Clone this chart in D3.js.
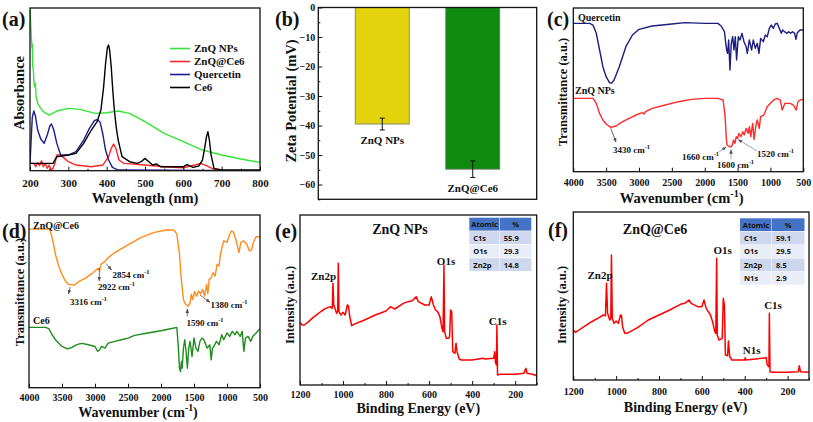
<!DOCTYPE html>
<html><head><meta charset="utf-8">
<script src="https://cdn.jsdelivr.net/npm/d3@7"></script>
<style>
body{margin:0;background:#fff}
svg{display:block}
text{font-family:"Liberation Serif","Times New Roman",serif;font-weight:bold;fill:#111}
.tbl text{font-family:"Open Sans","Liberation Sans",sans-serif;font-weight:bold}
</style>
</head><body>
<svg id="c" width="813" height="422"></svg>
<script>
// ---------- DATA ----------
// (a) UV-vis absorbance (a.u.) vs wavelength (nm)
const uvZnQ = [[200,490],[201,470],[203,412],[205,370],[206,380],[207,312],[209,300],[210,270],[212,252],[214,262],[216,222],[220,202],[228,187],[235,177],[250,167],[270,179],[300,187],[330,184],[370,172],[400,174],[430,179],[460,172],[500,147],[550,112],[600,87],[650,62],[700,47],[750,35],[800,25]];
const uvZnQCe6 = [[200,22],[210,22],[215,12],[220,24],[225,15],[230,30],[235,12],[240,22],[245,7],[250,17],[255,2],[260,7],[265,22],[270,47],[280,47],[290,37],[300,27],[320,17],[360,12],[390,17],[405,42],[412,67],[418,80],[424,67],[432,32],[445,22],[500,17],[550,12],[600,9],[630,17],[645,22],[660,15],[680,4],[700,0],[800,0]];
const uvQuercetin = [[200,22],[203,92],[206,160],[210,179],[214,165],[220,122],[228,95],[237,82],[245,107],[252,135],[256,140],[262,122],[270,82],[280,47],[300,47],[320,57],[340,92],[355,127],[368,150],[376,154],[383,145],[390,110],[397,62],[405,32],[415,10],[430,2],[800,0]];
const uvCe6 = [[200,22],[260,22],[270,42],[300,47],[320,52],[340,82],[360,122],[375,147],[385,182],[392,250],[397,320],[402,370],[405,377],[408,360],[412,310],[416,240],[420,182],[425,130],[430,92],[440,42],[460,27],[480,22],[490,27],[500,37],[510,27],[520,17],[530,20],[540,12],[560,12],[600,12],[610,18],[625,10],[640,14],[650,32],[656,70],[660,100],[664,117],[668,92],[672,50],[680,7],[700,2],[800,2]];
const uvTicks = [200,300,400,500,600,700,800];

// (b) Zeta potential
const zetaCategories = ["ZnQ NPs","ZnQ@Ce6"];
const zetaValues = [-39.5,-54.8];
const zetaErrors = [2.0,2.8];
const zetaTicks = [0,-10,-20,-30,-40,-50,-60];

// (c) FTIR transmittance (a.u.) vs wavenumber
const irQuercetin = [[4000,445],[3750,445],[3700,440],[3650,415],[3600,365],[3550,315],[3500,285],[3450,267],[3420,265],[3380,275],[3300,315],[3200,375],[3100,410],[3000,427],[2800,437],[2500,443],[2300,447],[2000,445],[1800,445],[1750,437],[1700,420],[1680,385],[1667,365],[1652,355],[1636,395],[1616,305],[1596,385],[1575,405],[1555,365],[1535,405],[1515,335],[1489,405],[1464,395],[1433,415],[1403,390],[1370,375],[1352,355],[1322,395],[1286,365],[1261,395],[1230,370],[1200,385],[1175,355],[1149,400],[1109,390],[1078,410],[1048,405],[1017,430],[987,440],[957,430],[926,443],[896,445],[866,430],[835,415],[815,425],[784,420],[754,415],[723,420],[693,415],[663,420],[632,415],[612,397],[591,417],[551,425],[500,425]];
const irZnQ = [[4000,220],[3700,220],[3650,205],[3600,175],[3550,155],[3500,143],[3430,133],[3350,137],[3250,150],[3150,160],[3050,170],[2950,177],[2920,173],[2900,180],[2800,190],[2600,200],[2400,210],[2200,217],[2000,220],[1800,220],[1720,215],[1690,165],[1670,95],[1660,80],[1640,77],[1620,75],[1600,75],[1580,80],[1560,95],[1540,85],[1520,105],[1500,100],[1480,115],[1450,105],[1420,120],[1400,110],[1370,130],[1340,115],[1320,135],[1300,105],[1270,145],[1250,97],[1220,140],[1200,155],[1170,130],[1150,165],[1100,170],[1050,195],[1000,205],[950,215],[900,220],[850,215],[820,185],[780,205],[700,205],[650,200],[610,185],[580,210],[550,215],[500,217]];
const irTicks = [4000,3500,3000,2500,2000,1500,1000,500];

// (d) FTIR
const irZnQCe6 = [[4000,473],[3700,473],[3680,468],[3650,448],[3600,398],[3550,363],[3500,338],[3450,318],[3400,308],[3316,306],[3250,316],[3150,326],[3050,340],[2950,356],[2930,348],[2922,360],[2900,370],[2854,376],[2800,388],[2700,403],[2500,426],[2300,448],[2100,463],[1900,471],[1800,470],[1760,458],[1720,398],[1690,318],[1660,263],[1640,253],[1620,248],[1590,243],[1560,253],[1540,278],[1520,263],[1490,286],[1460,273],[1430,288],[1400,280],[1370,293],[1340,273],[1310,308],[1290,280],[1270,323],[1240,328],[1210,343],[1180,333],[1150,368],[1120,363],[1100,398],[1050,438],[1000,433],[970,453],[930,468],[900,463],[860,438],[820,403],[790,433],[750,438],[700,428],[660,408],[630,410],[600,433],[560,450],[520,450],[500,448]];
const irCe6 = [[4000,180],[3750,180],[3700,176],[3650,158],[3600,143],[3500,123],[3420,116],[3350,120],[3300,126],[3250,130],[3200,132],[3100,128],[3000,123],[2960,108],[2930,113],[2900,123],[2850,118],[2800,133],[2700,138],[2600,143],[2500,148],[2400,156],[2200,163],[2000,170],[1800,178],[1760,180],[1740,128],[1720,58],[1705,48],[1690,78],[1680,58],[1660,118],[1640,143],[1620,108],[1600,58],[1580,118],[1560,138],[1530,93],[1500,148],[1470,118],[1440,108],[1410,138],[1380,148],[1350,143],[1300,118],[1260,128],[1240,83],[1220,118],[1200,123],[1160,138],[1120,128],[1080,158],[1050,143],[1000,163],[960,153],[920,168],[880,158],[850,168],[800,153],[770,168],[745,108],[720,148],[680,153],[640,138],[610,153],[560,163],[500,176]];

// (e) XPS ZnQ NPs: intensity (a.u.) vs binding energy (eV)
const xpsZnQ = [[1200,188],[1190,180],[1180,180],[1160,190],[1140,202],[1120,212],[1100,222],[1080,230],[1060,235],[1050,230],[1047,305],[1043,240],[1030,215],[1025,220],[1022,365],[1019,220],[1010,210],[1000,218],[990,210],[980,240],[975,238],[970,210],[960,178],[950,182],[900,195],[850,210],[800,222],[780,235],[760,228],[720,245],[700,250],[680,252],[660,265],[650,250],[620,240],[600,240],[590,265],[580,240],[570,225],[560,220],[550,205],[540,170],[535,160],[531,360],[528,160],[520,140],[510,140],[505,145],[500,225],[495,220],[490,100],[480,95],[475,125],[470,100],[460,78],[450,75],[400,75],[350,80],[340,78],[300,80],[295,100],[292,70],[287,60],[285,180],[282,30],[270,32],[200,32],[160,35],[150,50],[145,35],[120,32],[100,28]];
const xpsTicks = [1200,1000,800,600,400,200];
const tableE = [["C1s","55.9"],["O1s","29.3"],["Zn2p","14.8"]];

// (f) XPS ZnQ@Ce6
const xpsZnQCe6 = [[1200,150],[1190,143],[1180,147],[1150,160],[1120,173],[1100,180],[1080,187],[1060,195],[1050,193],[1045,290],[1040,200],[1030,180],[1025,185],[1022,375],[1018,185],[1010,170],[1000,177],[990,170],[980,195],[975,193],[970,160],[960,140],[950,140],[900,157],[850,180],[800,195],[750,210],[700,227],[680,230],[660,240],[650,230],[620,220],[600,220],[590,240],[580,215],[570,205],[560,195],[550,175],[540,145],[535,140],[531,365],[528,135],[520,120],[505,125],[500,245],[495,225],[490,75],[480,73],[476,117],[470,70],[460,60],[400,60],[398,67],[395,60],[350,63],[300,67],[295,45],[287,40],[285,200],[282,25],[270,23],[200,23],[150,25],[145,43],[140,25],[100,23]];
const tableF = [["C1s","59.1"],["O1s","29.5"],["Zn2p","8.5"],["N1s","2.9"]];

// ---------- DRAW ----------
const svg = d3.select("#c");
let clipN = 0;

function frame(l, t, r, b){
  svg.append("rect").attr("x",l).attr("y",t).attr("width",r-l).attr("height",b-t)
    .attr("fill","none").attr("stroke","#111").attr("stroke-width",1.3);
}
function clip(l,t,r,b){
  const id = "clip"+(clipN++);
  svg.append("clipPath").attr("id",id).append("rect").attr("x",l).attr("y",t).attr("width",r-l).attr("height",b-t);
  return "url(#"+id+")";
}
function xAxis(x, b, ticks, minor, fs, pad){
  const g1 = svg.append("g").attr("transform",`translate(0,${b})`)
    .call(d3.axisBottom(x).tickValues(ticks).tickSize(-4).tickPadding(pad).tickFormat(d3.format("d")));
  g1.select(".domain").remove();
  g1.selectAll("text").attr("font-size",fs).attr("font-family","Liberation Serif").attr("font-weight","bold").attr("fill","#111");
  g1.selectAll("line").attr("stroke","#111");
  if(minor){
    const g2 = svg.append("g").attr("transform",`translate(0,${b})`)
      .call(d3.axisBottom(x).tickValues(minor).tickSize(-2).tickFormat(""));
    g2.select(".domain").remove();
    g2.selectAll("line").attr("stroke","#111");
  }
}
function line(x,y,data,color,cp,w){
  svg.append("path").datum(data).attr("clip-path",cp)
    .attr("d", d3.line().x(d=>x(d[0])).y(d=>y(d[1])))
    .attr("fill","none").attr("stroke",color).attr("stroke-width",w||1.4).attr("stroke-linejoin","round");
}
function label(x,y,txt,fs,anchor,color){
  return svg.append("text").attr("x",x).attr("y",y).attr("font-size",fs)
    .attr("text-anchor",anchor||"start").attr("fill",color||"#111").text(txt);
}
function supLabel(x,y,main,sup,tail,fs,anchor,color){
  const t = svg.append("text").attr("x",x).attr("y",y).attr("font-size",fs)
    .attr("text-anchor",anchor||"start").attr("fill",color||"#111");
  t.append("tspan").text(main);
  t.append("tspan").attr("dy",-fs*0.4).attr("font-size",fs*0.7).text(sup);
  if(tail) t.append("tspan").attr("dy",fs*0.4).text(tail);
  return t;
}
function yTitle(x,y,txt,fs){
  svg.append("text").attr("transform",`translate(${x},${y}) rotate(-90)`)
    .attr("text-anchor","middle").attr("font-size",fs).text(txt);
}
function arrow(x1,y1,x2,y2,color){
  svg.append("line").attr("x1",x1).attr("y1",y1).attr("x2",x2).attr("y2",y2)
    .attr("stroke",color||"#666").attr("stroke-width",0.9).attr("marker-end","url(#ah)");
}
svg.append("defs").append("marker").attr("id","ah").attr("viewBox","0 0 10 10").attr("refX",9).attr("refY",5)
  .attr("markerWidth",5).attr("markerHeight",5).attr("orient","auto")
  .append("path").attr("d","M0,1 L10,5 L0,9 z").attr("fill","#555");

function panelLetter(x,y,txt){ label(x,y,txt,20); }

// ----- (a) -----
{
  const L=30,T=8,R=260,B=170.7;
  const x = d3.scaleLinear().domain([200,800]).range([L,R]);
  const y = d3.scaleLinear().domain([0,488]).range([B,T]);
  const cp = clip(L,T,R,B);
  line(x,y,uvZnQ,"#33e633",cp);
  line(x,y,uvZnQCe6,"#ff2626",cp);
  line(x,y,uvQuercetin,"#1c1c8f",cp);
  line(x,y,uvCe6,"#000",cp);
  frame(L,T,R,B);
  xAxis(x,B,uvTicks,[250,350,450,550,650,750],11,8.5);
  label(145,203,"Wavelength (nm)",14.5,"middle");
  yTitle(24,93,"Absorbance",14.5);
  panelLetter(2,26,"(a)");
  const leg = [["ZnQ NPs","#33e633"],["ZnQ@Ce6","#ff2626"],["Quercetin","#1c1c8f"],["Ce6","#000"]];
  leg.forEach((d,i)=>{
    const yy = 48.5 + i*13;
    svg.append("line").attr("x1",170).attr("x2",190).attr("y1",yy).attr("y2",yy).attr("stroke",d[1]).attr("stroke-width",1.6);
    label(194,yy+3.8,d[0],11);
  });
}

// ----- (b) -----
{
  const L=318.3,T=7.5,R=536.7,B=199.3;
  const x = d3.scaleBand().domain(zetaCategories).range([L,R]).paddingInner(0.403).paddingOuter(0.408);
  const y = d3.scaleLinear().domain([-65,0]).range([B,T]);
  const colors = ["#e2d30c","#0f8a0f"];
  zetaCategories.forEach((c,i)=>{
    svg.append("rect").attr("x",x(c)).attr("y",y(0)).attr("width",x.bandwidth()).attr("height",y(zetaValues[i])-y(0))
      .attr("fill",colors[i]).attr("stroke","#777").attr("stroke-width",0.8);
    const cx = x(c)+x.bandwidth()/2;
    const e = zetaErrors[i], v = zetaValues[i];
    svg.append("line").attr("x1",cx).attr("x2",cx).attr("y1",y(v+e)).attr("y2",y(v-e)).attr("stroke","#111").attr("stroke-width",1);
    [v+e,v-e].forEach(vv=>svg.append("line").attr("x1",cx-2.5).attr("x2",cx+2.5).attr("y1",y(vv)).attr("y2",y(vv)).attr("stroke","#111").attr("stroke-width",1));
    label(cx, y(v-e)+14.5, c, 11, "middle");
  });
  const g1 = svg.append("g").attr("transform",`translate(${L},0)`)
    .call(d3.axisLeft(y).tickValues(zetaTicks).tickSize(-4).tickPadding(3));
  g1.select(".domain").remove();
  g1.selectAll("text").attr("font-size",10).attr("font-family","Liberation Serif").attr("font-weight","bold").attr("fill","#111");
  g1.selectAll("line").attr("stroke","#111");
  const g2 = svg.append("g").attr("transform",`translate(${L},0)`)
    .call(d3.axisLeft(y).tickValues([-5,-15,-25,-35,-45,-55,-65]).tickSize(-2).tickFormat(""));
  g2.select(".domain").remove();
  frame(L,T,R,B);
  yTitle(296,101,"Zeta Potential (mV)",14.5);
  panelLetter(275,26,"(b)");
}

// ----- (c) -----
{
  const L=573.3,T=8,R=803.3,B=171.7;
  const x = d3.scaleLinear().domain([4000,500]).range([L,R]);
  const y = d3.scaleLinear().domain([0,491]).range([B,T]);
  const cp = clip(L,T,R,B);
  line(x,y,irQuercetin,"#1c1c80",cp);
  line(x,y,irZnQ,"#ff2a2a",cp);
  frame(L,T,R,B);
  xAxis(x,B,irTicks,null,10,7.2);
  supLabel(681.7,203,"Wavenumber (cm","-1",")",14.5,"middle");
  yTitle(567,92,"Transmittance (a.u.)",12.5);
  panelLetter(547,26,"(c)");
  label(578,20.5,"Quercetin",10);
  label(575,94,"ZnQ NPs",10);
  arrow(x(3430),y(133)+1,616,142,"#555");
  supLabel(613,153,"3430 cm","-1",null,9);
  arrow(719,152,x(1660)-1,y(80)+2,"#8899bb");
  supLabel(719,160,"1660 cm","-1",null,9,"end","#1a1a55");
  arrow(x(1600),159,x(1600),y(75)+3,"#8899bb");
  supLabel(717,168,"1600 cm","-1",null,9,"start","#1a1a55");
  arrow(757,151,x(1520)+2,y(105)+3,"#8899bb");
  supLabel(757,157,"1520 cm","-1",null,9,"start","#1a1a55");
}

// ----- (d) -----
{
  const L=29,T=215,R=260,B=387.7;
  const x = d3.scaleLinear().domain([4000,500]).range([L,R]);
  const y = d3.scaleLinear().domain([0,515]).range([B,T]);
  const cp = clip(L,T,R,B);
  line(x,y,irZnQCe6,"#ff8c1a",cp);
  line(x,y,irCe6,"#1e8c1e",cp);
  frame(L,T,R,B);
  xAxis(x,B,irTicks,null,10,6);
  supLabel(138,417,"Wavenumber (cm","-1",")",14,"middle");
  yTitle(24,292,"Transmittance (a.u.)",12.5);
  panelLetter(2,238,"(d)");
  label(33,228.5,"ZnQ@Ce6",10);
  label(33,323.5,"Ce6",10);
  arrow(x(3316)-4,y(306)+2,68.5,294,"#666");
  supLabel(70,304.5,"3316 cm","-1",null,9);
  arrow(99.3,268,99.3,281,"#666");
  supLabel(98,290,"2922 cm","-1",null,9);
  arrow(106,263.5,111.5,270,"#666");
  supLabel(112.5,277.5,"2854 cm","-1",null,9);
  arrow(187.3,316.5,187.3,309,"#666");
  supLabel(186.5,325.5,"1590 cm","-1",null,9);
  arrow(200,295,210,302.3,"#666");
  supLabel(210.5,307.5,"1380 cm","-1",null,9);
}

function xpsTable(x0,y0,w1,w2,rh,rows){
  const g = svg.append("g").attr("class","tbl");
  const all = [["Atomic","%"]].concat(rows);
  all.forEach((r,i)=>{
    const fill = i===0 ? "#4472c4" : (i%2===1 ? "#cfd7ee" : "#e9edf7");
    g.append("rect").attr("x",x0).attr("y",y0+i*rh).attr("width",w1-0.5).attr("height",rh-0.6).attr("fill",fill);
    g.append("rect").attr("x",x0+w1).attr("y",y0+i*rh).attr("width",w2).attr("height",rh-0.6).attr("fill",fill);
    const col = i===0 ? "#fff" : "#222";
    g.append("text").attr("x", i===0 ? x0+w1/2 : x0+4).attr("y",y0+i*rh+rh/2+2.6).attr("font-size",7.5)
      .attr("text-anchor", i===0 ? "middle":"start").attr("fill",col).text(r[0]);
    g.append("text").attr("x", i===0 ? x0+w1+w2/2 : x0+w1+4).attr("y",y0+i*rh+rh/2+2.6).attr("font-size",7.5)
      .attr("text-anchor", i===0 ? "middle":"start").attr("fill",col).text(r[1]);
  });
}

// ----- (e) -----
{
  const L=300,T=215,R=536.7,B=385;
  const x = d3.scaleLinear().domain([1200,100]).range([L,R]);
  const y = d3.scaleLinear().domain([0,510]).range([B,T]);
  const cp = clip(L,T,R,B);
  line(x,y,xpsZnQ,"#ff0000",cp,1.5);
  frame(L,T,R,B);
  xAxis(x,B,xpsTicks,[1100,900,700,500,300,100],10,5.5);
  label(418.3,413,"Binding Energy (eV)",14,"middle");
  yTitle(294,305,"Intensity (a.u.)",12.5);
  panelLetter(275,238,"(e)");
  label(400,234,"ZnQ NPs",14,"middle");
  label(323.5,279.5,"Zn2p",11,"middle");
  label(446,264.5,"O1s",11,"middle");
  label(497.7,324.5,"C1s",11,"middle");
  xpsTable(469.3,217.7,30.5,31.5,13.5,tableE);
}

// ----- (f) -----
{
  const L=573.3,T=212,R=809,B=380;
  const x = d3.scaleLinear().domain([1200,100]).range([L,R]);
  const y = d3.scaleLinear().domain([0,504]).range([B,T]);
  const cp = clip(L,T,R,B);
  line(x,y,xpsZnQCe6,"#ff0000",cp,1.5);
  frame(L,T,R,B);
  xAxis(x,B,xpsTicks,[1100,900,700,500,300,100],10,7.5);
  label(685.7,412,"Binding Energy (eV)",14,"middle");
  yTitle(566,305,"Intensity (a.u.)",12.5);
  panelLetter(548,237,"(f)");
  label(655,234,"ZnQ@Ce6",14,"middle");
  label(600,279,"Zn2p",11,"middle");
  label(722.7,253.5,"O1s",11,"middle");
  label(773,308.5,"C1s",11,"middle");
  label(751.7,353.5,"N1s",11,"middle");
  xpsTable(740,218.3,32,32.5,13.4,tableF);
}
</script>
</body></html>
